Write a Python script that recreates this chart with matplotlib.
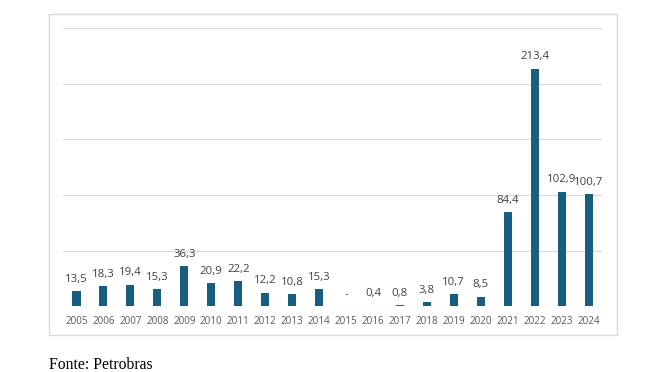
import numpy as np
import matplotlib
matplotlib.use("Agg")
import matplotlib.pyplot as plt
from matplotlib.patches import Rectangle

# Data
years = ["2005", "2006", "2007", "2008", "2009", "2010", "2011", "2012", "2013", "2014",
         "2015", "2016", "2017", "2018", "2019", "2020", "2021", "2022", "2023", "2024"]
values = [13.5, 18.3, 19.4, 15.3, 36.3, 20.9, 22.2, 12.2, 10.8, 15.3,
          0.0, 0.4, 0.8, 3.8, 10.7, 8.5, 84.4, 213.4, 102.9, 100.7]
labels = ["13,5", "18,3", "19,4", "15,3", "36,3", "20,9", "22,2", "12,2", "10,8", "15,3",
          "-", "0,4", "0,8", "3,8", "10,7", "8,5", "84,4", "213,4", "102,9", "100,7"]
grid_vals = [0, 50, 100, 150, 200, 250]

bar_color = "#185E80"
grid_color = "#D9D9D9"

fig = plt.figure(figsize=(6.53, 3.72), dpi=100)
ax = fig.add_axes([0.0965, 0.177, 0.8255, 0.748])

# outer chart frame
fig.patches.append(Rectangle((0.075, 0.0995), 0.87, 0.8625, transform=fig.transFigure,
                             fill=False, edgecolor=grid_color, linewidth=1.0))

x = np.arange(len(years))
ax.bar(x, values, width=0.3, color=bar_color, zorder=3)

for xi, v, lab in zip(x, values, labels):
    ax.annotate(lab, (xi, v), xytext=(0, 4.5), textcoords="offset points",
                ha="center", va="bottom", fontsize=8.2, color="#404040",
                family="Open Sans")

for g in grid_vals:
    ax.axhline(g, color=grid_color, linewidth=0.9, zorder=1)

ax.set_xlim(-0.5, len(years) - 0.5)
ax.set_ylim(0, 250)
ax.set_xticks(x)
ax.set_xticklabels(years, fontsize=7.1, color="#595959", family="Open Sans")
ax.tick_params(axis="x", length=0, pad=7)
ax.set_yticks([])
for s in ax.spines.values():
    s.set_visible(False)

fig.text(0.075, 0.008, "Fonte: Petrobras", fontsize=11.3, family="Liberation Serif",
         color="black", ha="left", va="baseline")

fig.savefig("out.png", dpi=100)
